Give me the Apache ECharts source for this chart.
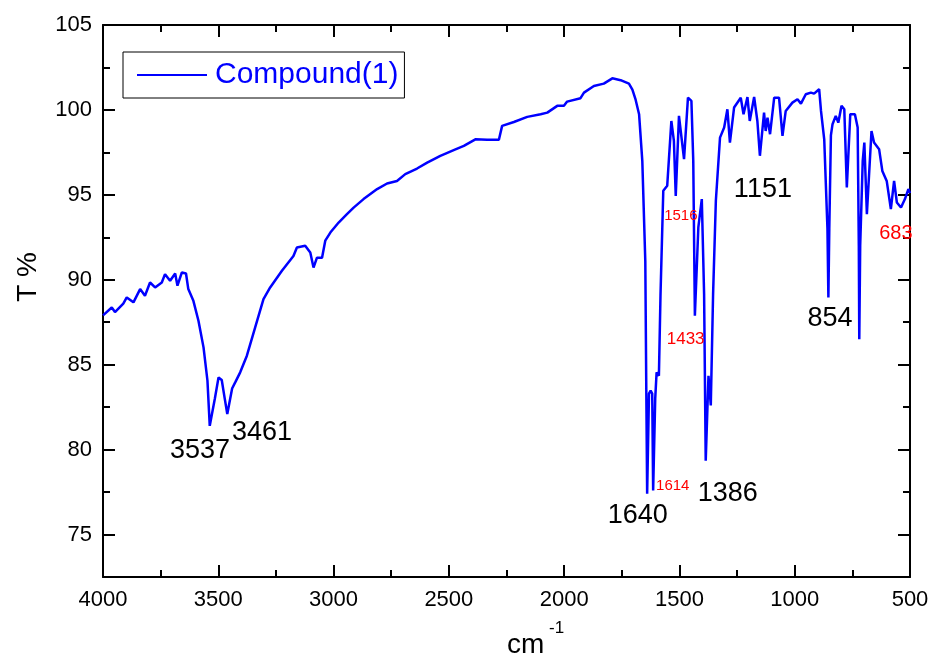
<!DOCTYPE html>
<html>
<head>
<meta charset="utf-8">
<script src="https://cdn.jsdelivr.net/npm/echarts@6/dist/echarts.min.js"></script>
<style>
html,body{margin:0;padding:0;background:#fff;}
#chart{width:934px;height:667px;}
</style>
</head>
<body>
<div id="chart"></div>
<script>
// ---- data ----
const wavenumbers = [4000,3962,3948,3912,3897,3868,3839,3818,3796,3774,3745,3731,3709,3687,3677,3658,3640,3630,3608,3586,3564,3547,3537,3515,3499,3485,3472,3461,3440,3425,3405,3376,3340,3304,3275,3224,3174,3159,3123,3101,3087,3072,3050,3036,3014,2978,2942,2913,2870,2811,2768,2725,2689,2638,2594,2537,2479,2435,2385,2334,2283,2275,2269,2218,2160,2102,2073,2030,2001,1987,1929,1914,1871,1828,1791,1755,1719,1704,1690,1675,1661,1648,1644,1640,1632,1625,1618,1614,1605,1599,1589,1582,1570,1553,1535,1524,1516,1502,1480,1463,1448,1440,1433,1418,1403,1393,1386,1374,1364,1354,1342,1324,1306,1292,1281,1263,1234,1222,1205,1195,1176,1162,1151,1133,1126,1118,1107,1089,1068,1053,1039,1010,988,973,952,930,916,894,886,872,858,854,850,843,836,822,811,797,785,774,759,739,727,722,720,716,705,698,687,667,656,634,620,601,583,569,557,539,522,507,500];
const transmittance = [87.9,88.37,88.1,88.6,88.96,88.67,89.45,89.06,89.84,89.55,89.84,90.33,89.94,90.37,89.65,90.43,90.37,89.45,88.76,87.59,86.02,84.06,81.4,83.0,84.25,84.1,83.0,82.1,83.6,84.0,84.55,85.53,87.2,88.86,89.55,90.53,91.4,91.9,92.0,91.6,90.72,91.3,91.3,92.3,92.78,93.37,93.86,94.25,94.75,95.34,95.67,95.82,96.22,96.55,96.9,97.3,97.63,97.88,98.27,98.24,98.24,98.3,99.06,99.29,99.59,99.75,99.84,100.24,100.24,100.49,100.69,101.02,101.41,101.55,101.86,101.75,101.55,101.2,100.6,99.75,97.0,91.1,84.0,77.4,83.3,83.47,83.3,77.6,83.0,84.55,84.35,89.16,95.24,95.53,99.35,98.18,94.94,99.65,97.1,100.72,100.53,97.0,87.88,93.08,94.75,89.16,79.35,84.35,82.6,89.16,94.65,98.37,98.96,100.04,98.08,100.14,100.72,99.75,100.76,99.35,100.76,99.35,97.3,99.84,98.76,99.55,98.57,100.72,100.72,98.47,99.94,100.43,100.63,100.37,100.92,101.02,100.96,101.22,99.94,98.27,93.0,88.96,93.0,98.5,99.16,99.65,99.25,100.24,100.04,95.43,99.75,99.75,98.96,92.0,86.5,92.0,97.0,98.08,93.86,98.76,98.08,97.69,96.41,95.82,94.16,95.82,94.55,94.25,94.75,95.34,95.1];

const xMajorTicks = [500,1000,1500,2000,2500,3000,3500,4000];
const xMinorTicks = [750,1250,1750,2250,2750,3250,3750];
const yMajorTicks = [75,80,85,90,95,100,105];
const yMinorTicks = [77.5,82.5,87.5,92.5,97.5,102.5];

const seriesName = 'Compound(1)';
// peak annotations: text, wavenumber, T (label centre), colour, font size
const annoText  = ['3537','3461','1640','1614','1386','1433','854','1516','1151','683'];
const annoX     = [3579, 3310, 1681, 1529, 1290, 1473, 847, 1494, 1138, 561];
const annoY     = [79.94, 81.0, 76.12, 77.88, 77.41, 86.47, 87.71, 93.76, 95.29, 92.71];
const annoColor = ['#000','#000','#000','#f00','#000','#f00','#000','#f00','#000','#f00'];
const annoSize  = [27,27,27,15,27,17,27,15,27,20];

const FONT = '"Liberation Sans", Arial, sans-serif';
const chart = echarts.init(document.getElementById('chart'), null, {renderer:'canvas'});

const lineStyleAxis = {show:true, onZero:false, lineStyle:{color:'#000', width:2}};
function xAx(pos, ticks, len, line, labels){
  return {
    type:'value', position:pos, inverse:true, min:500, max:4000,
    splitLine:{show:false},
    axisLine: line ? lineStyleAxis : {show:false, onZero:false},
    axisTick:{show:true, inside:true, length:len, customValues:ticks, lineStyle:{color:'#000', width:2}},
    axisLabel: labels ? {show:true, customValues:ticks, formatter:(v)=>String(v), margin:12, color:'#000', fontSize:22, fontFamily:FONT} : {show:false}
  };
}
function yAx(pos, ticks, len, line, labels){
  return {
    type:'value', position:pos, min:72.5, max:105,
    splitLine:{show:false},
    axisLine: line ? lineStyleAxis : {show:false, onZero:false},
    axisTick:{show:true, inside:true, length:len, customValues:ticks, lineStyle:{color:'#000', width:2}},
    axisLabel: labels ? {show:true, customValues:ticks, formatter:(v)=>String(v), margin:11, color:'#000', fontSize:22, fontFamily:FONT} : {show:false}
  };
}

const pts = wavenumbers.map((w,i)=>[w, transmittance[i]]);
const marks = annoText.map((t,i)=>({
  coord:[annoX[i], annoY[i]], value:t,
  label:{show:true, position:'inside', formatter:t, color:annoColor[i], fontSize:annoSize[i], fontFamily:FONT}
}));

chart.setOption({
  animation:false,
  backgroundColor:'#fff',
  grid:{left:103, right:24, top:25, bottom:90, containLabel:false},
  xAxis:[
    xAx('bottom', xMajorTicks, 12, true, true),
    xAx('bottom', xMinorTicks, 7, false, false),
    xAx('top', xMajorTicks, 12, true, false),
    xAx('top', xMinorTicks, 7, false, false)
  ],
  yAxis:[
    yAx('left', yMajorTicks, 12, true, true),
    yAx('left', yMinorTicks, 7, false, false),
    yAx('right', yMajorTicks, 12, true, false),
    yAx('right', yMinorTicks, 7, false, false)
  ],
  legend:{
    show:true, left:123, top:52, orient:'horizontal',
    padding:[8,6,8,14], itemWidth:70, itemHeight:14, itemGap:0,
    borderColor:'#000', borderWidth:1, backgroundColor:'#fff',
    textStyle:{color:'#0000ff', fontSize:30, fontFamily:FONT, padding:[0,0,0,3]},
    data:[{name:seriesName, icon:'path://M0,6 L70,6 L70,8 L0,8 Z'}],
    selectedMode:false
  },
  series:[{
    name:seriesName, type:'line', xAxisIndex:0, yAxisIndex:0, clip:false,
    data:pts, symbol:'none', showSymbol:false, smooth:false,
    lineStyle:{color:'#0000ff', width:2.5}, itemStyle:{color:'#0000ff'},
    markPoint:{symbol:'rect', symbolSize:1, itemStyle:{color:'rgba(0,0,0,0)'}, silent:true, data:marks}
  }],
  graphic:[
    {type:'text', left:14, top:252, rotation:Math.PI/2, style:{text:'T %', font:'28px '+FONT, fill:'#000'}, originX:0, originY:0},
    {type:'text', left:507, top:631, style:{text:'cm', font:'28px '+FONT, fill:'#000'}},
    {type:'text', left:549, top:620, style:{text:'-1', font:'17px '+FONT, fill:'#000'}}
  ]
});
</script>
</body>
</html>
